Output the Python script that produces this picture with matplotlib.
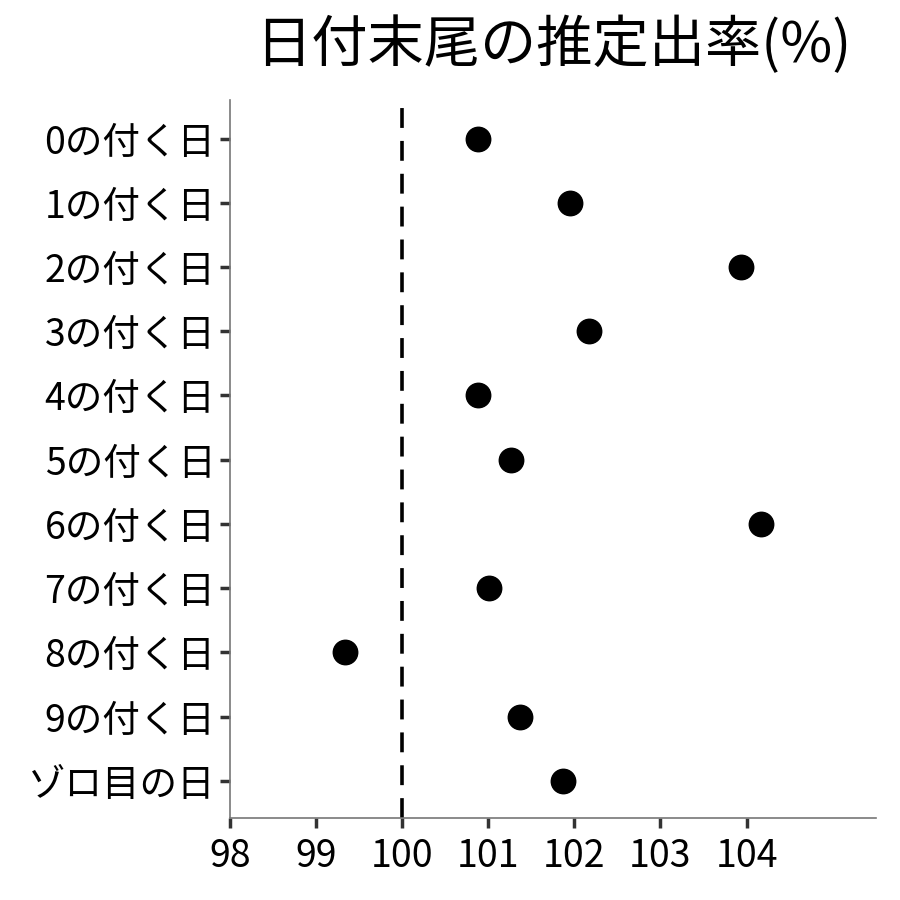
import matplotlib
matplotlib.use("Agg")
import matplotlib.pyplot as plt

plt.rcParams['font.family'] = ['Noto Sans CJK JP', 'DejaVu Sans']

# labels top to bottom and estimated rates (%)
labels = ["0の付く日", "1の付く日", "2の付く日", "3の付く日", "4の付く日",
          "5の付く日", "6の付く日", "7の付く日", "8の付く日", "9の付く日", "ゾロ目の日"]
rates = [100.88, 101.95, 103.94, 102.17, 100.88, 101.26, 104.17, 101.01, 99.34, 101.37, 101.87]
xticks = [98, 99, 100, 101, 102, 103, 104]

fig = plt.figure(figsize=(9, 9), dpi=100)
ax = fig.add_axes([0.2556, 0.0911, 0.7174, 0.7978])

ypos = list(range(len(labels)))
ax.scatter(rates, ypos, s=310, color="black", zorder=3)
ax.axvline(100, color="black", linestyle=(0, (5.5, 3.6)), linewidth=2.6)

ax.set_yticks(ypos)
ax.set_yticklabels(labels)
ax.set_ylim(len(labels) - 0.42, -0.6)
ax.set_xticks(xticks)
ax.set_xlim(98, 105.5)

for s in ["top", "right"]:
    ax.spines[s].set_visible(False)
for s in ["left", "bottom"]:
    ax.spines[s].set_color("#777777")
    ax.spines[s].set_linewidth(1.2)
ax.tick_params(axis="both", labelsize=27, color="#333333", width=2.5, length=7)
ax.tick_params(axis="x", pad=7)

ax.set_title("日付末尾の推定出率(%)", fontsize=40.5, pad=27)

fig.savefig("out.png", dpi=100)
